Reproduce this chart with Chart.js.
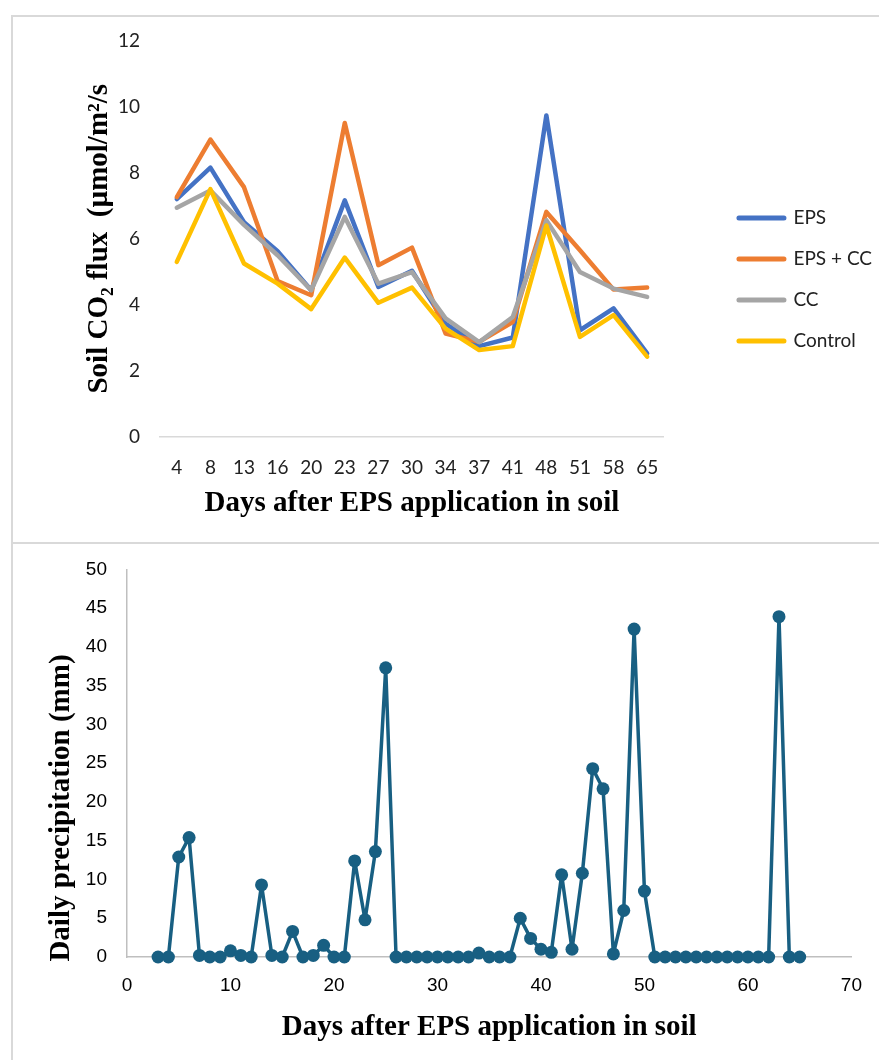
<!DOCTYPE html>
<html>
<head>
<meta charset="utf-8">
<title>Soil CO2 flux and daily precipitation</title>
<script src="https://cdn.jsdelivr.net/npm/chart.js@4.4.1/dist/chart.umd.min.js"></script>
<style>
  html, body { margin: 0; padding: 0; background: #fff; overflow: hidden; }
  #page { position: relative; width: 879px; height: 1060px; overflow: hidden; }
  .frame { position: absolute; border: 0 solid #d9d9d9; box-sizing: border-box; }
  #topFrame { left: 11px; top: 15px; width: 900px; height: 529px; border-width: 2px 0 2px 2px; }
  #bottomFrame { left: 11px; top: 542px; width: 900px; height: 600px; border-left-width: 2px; }
  #fluxChart { position: absolute; left: 0; top: 9px; }
  #rainChart { position: absolute; left: 0; top: 538px; }
</style>
</head>
<body>
<div id="page">
  <div class="frame" id="topFrame"></div>
  <div class="frame" id="bottomFrame"></div>
  <canvas id="fluxChart" width="900" height="534"></canvas>
  <canvas id="rainChart" width="879" height="522"></canvas>
</div>
<script>
// top chart: soil CO2 flux per sampling day
const sampleDays = ['4', '8', '13', '16', '20', '23', '27', '30', '34', '37', '41', '48', '51', '58', '65'];
const fluxEPS     = [7.20, 8.15, 6.50, 5.62, 4.44, 7.16, 4.54, 5.03, 3.43, 2.75, 3.01, 9.73, 3.23, 3.89, 2.53];
const fluxEPSCC   = [7.26, 9.00, 7.56, 4.72, 4.29, 9.50, 5.20, 5.73, 3.13, 2.88, 3.48, 6.81, 5.65, 4.46, 4.52];
const fluxCC      = [6.94, 7.46, 6.42, 5.50, 4.44, 6.66, 4.64, 4.99, 3.59, 2.87, 3.63, 6.56, 4.99, 4.49, 4.24];
const fluxControl = [5.30, 7.50, 5.25, 4.64, 3.87, 5.43, 4.06, 4.52, 3.28, 2.63, 2.75, 6.40, 3.03, 3.69, 2.43];
const fluxTicks = [0, 2, 4, 6, 8, 10, 12];

// bottom chart: daily precipitation
const rainDays = [3, 4, 5, 6, 7, 8, 9, 10, 11, 12, 13, 14, 15, 16, 17, 18, 19, 20, 21, 22,
  23, 24, 25, 26, 27, 28, 29, 30, 31, 32, 33, 34, 35, 36, 37, 38, 39, 40, 41, 42,
  43, 44, 45, 46, 47, 48, 49, 50, 51, 52, 53, 54, 55, 56, 57, 58, 59, 60, 61, 62,
  63, 64, 65];
const rainMm = [0, 0, 12.9, 15.4, 0.2, 0, 0, 0.8, 0.2, 0, 9.3, 0.2, 0, 3.3, 0, 0.2, 1.5, 0, 0, 12.4,
  4.8, 13.6, 37.3, 0, 0, 0, 0, 0, 0, 0, 0, 0.5, 0, 0, 0, 5.0, 2.4, 1.0, 0.6, 10.6,
  1.0, 10.8, 24.3, 21.7, 0.4, 6.0, 42.3, 8.5, 0, 0, 0, 0, 0, 0, 0, 0, 0, 0, 0, 0,
  43.9, 0, 0];

const serifBold = { family: 'Liberation Serif', size: 29, weight: 'bold' };
const calibriLike = { family: 'Lato', size: 19 };
const arialLike = { family: 'Liberation Sans', size: 19 };

function fluxSeries(label, values, color, order) {
    return {
        label: label,
        data: values,
        borderColor: color,
        backgroundColor: color,
        borderWidth: 4.5,
        borderJoinStyle: 'round',
        borderCapStyle: 'round',
        pointRadius: 0,
        tension: 0,
        order: order
    };
}

new Chart(document.getElementById('fluxChart'), {
    type: 'line',
    data: {
        labels: sampleDays,
        datasets: [
            fluxSeries('EPS', fluxEPS, '#4472C4', 4),
            fluxSeries('EPS + CC', fluxEPSCC, '#ED7D31', 3),
            fluxSeries('CC', fluxCC, '#A5A5A5', 2),
            fluxSeries('Control', fluxControl, '#FFC000', 1)
        ]
    },
    options: {
        responsive: false,
        animation: false,
        layout: { padding: { top: 24, bottom: 17, left: 0, right: 18 } },
        plugins: {
            tooltip: { enabled: false },
            legend: {
                position: 'right',
                labels: {
                    usePointStyle: true,
                    pointStyleWidth: 45,
                    padding: 22,
                    color: '#222',
                    font: calibriLike,
                    // keep legend in dataset order (order only sets draw stacking)
                    generateLabels: chart => chart.data.datasets.map((ds, i) => ({
                        text: ds.label,
                        datasetIndex: i,
                        fillStyle: ds.borderColor,
                        strokeStyle: ds.borderColor,
                        fontColor: '#222',
                        lineWidth: 5,
                        lineCap: 'round',
                        pointStyle: 'line',
                        hidden: false
                    }))
                }
            }
        },
        scales: {
            x: {
                offset: true,
                grid: { display: false, drawTicks: false },
                border: { color: '#d9d9d9', width: 1.5 },
                ticks: { padding: 19, color: '#222', font: calibriLike },
                title: { display: true, text: 'Days after EPS application in soil', color: '#000', font: serifBold, padding: { top: 0, bottom: 5 } },
                afterFit: scale => { scale.height = 89; }
            },
            y: {
                min: 0,
                max: 12,
                afterBuildTicks: scale => { scale.ticks = fluxTicks.map(v => ({ value: v })); },
                grid: { display: false, drawTicks: false },
                border: { display: false },
                ticks: { padding: 20, color: '#222', font: calibriLike },
                title: { display: true, text: 'Soil CO\u2082 flux  (\u00b5mol/m\u00b2/s', color: '#000', font: serifBold, padding: { top: 82 } },
                afterFit: scale => { scale.width = 160; }
            },
            // hidden axis, only used to open the gap between plot and legend
            gap: {
                type: 'linear',
                position: 'right',
                display: false,
                afterFit: scale => { scale.width = 53; }
            }
        }
    }
});

// rotated axis title that sits lower than the axis centre, as in the source figure
const sideTitle = {
    id: 'sideTitle',
    afterDraw(chart, args, opts) {
        const ctx = chart.ctx;
        ctx.save();
        ctx.translate(opts.x, opts.y);
        ctx.rotate(-Math.PI / 2);
        ctx.font = `${opts.font.weight} ${opts.font.size}px ${opts.font.family}`;
        ctx.fillStyle = opts.color;
        ctx.textAlign = 'center';
        ctx.textBaseline = 'middle';
        ctx.fillText(opts.text, 0, 0);
        ctx.restore();
    }
};

new Chart(document.getElementById('rainChart'), {
    type: 'line',
    data: {
        datasets: [{
            label: 'Daily precipitation',
            data: rainDays.map((d, i) => ({ x: d, y: rainMm[i] })),
            borderColor: '#185F82',
            backgroundColor: '#185F82',
            borderWidth: 3.5,
            borderJoinStyle: 'round',
            pointRadius: 6.5,
            pointBorderWidth: 0,
            pointBackgroundColor: '#185F82',
            tension: 0,
            clip: false
        }]
    },
    options: {
        responsive: false,
        animation: false,
        layout: { padding: { top: 17, right: 27, left: 0, bottom: 0 } },
        plugins: {
            legend: { display: false },
            tooltip: { enabled: false },
            sideTitle: { text: 'Daily precipitation (mm)', x: 62, y: 270, color: '#000', font: serifBold }
        },
        scales: {
            x: {
                type: 'linear',
                min: 0,
                max: 70,
                ticks: { stepSize: 10, padding: 17, color: '#000', font: arialLike },
                grid: { display: false, drawTicks: false },
                border: { color: '#bfbfbf', width: 1.5 },
                title: { display: true, text: 'Days after EPS application in soil', color: '#000', font: serifBold, padding: { top: 0, bottom: 15 } },
                afterFit: scale => { scale.height = 103; }
            },
            y: {
                min: 0,
                max: 50,
                ticks: { stepSize: 5, padding: 20, color: '#000', font: arialLike },
                grid: { display: false, drawTicks: false },
                border: { color: '#bfbfbf', width: 1.5 },
                afterFit: scale => { scale.width = 127; }
            }
        }
    },
    plugins: [sideTitle]
});
</script>
</body>
</html>
